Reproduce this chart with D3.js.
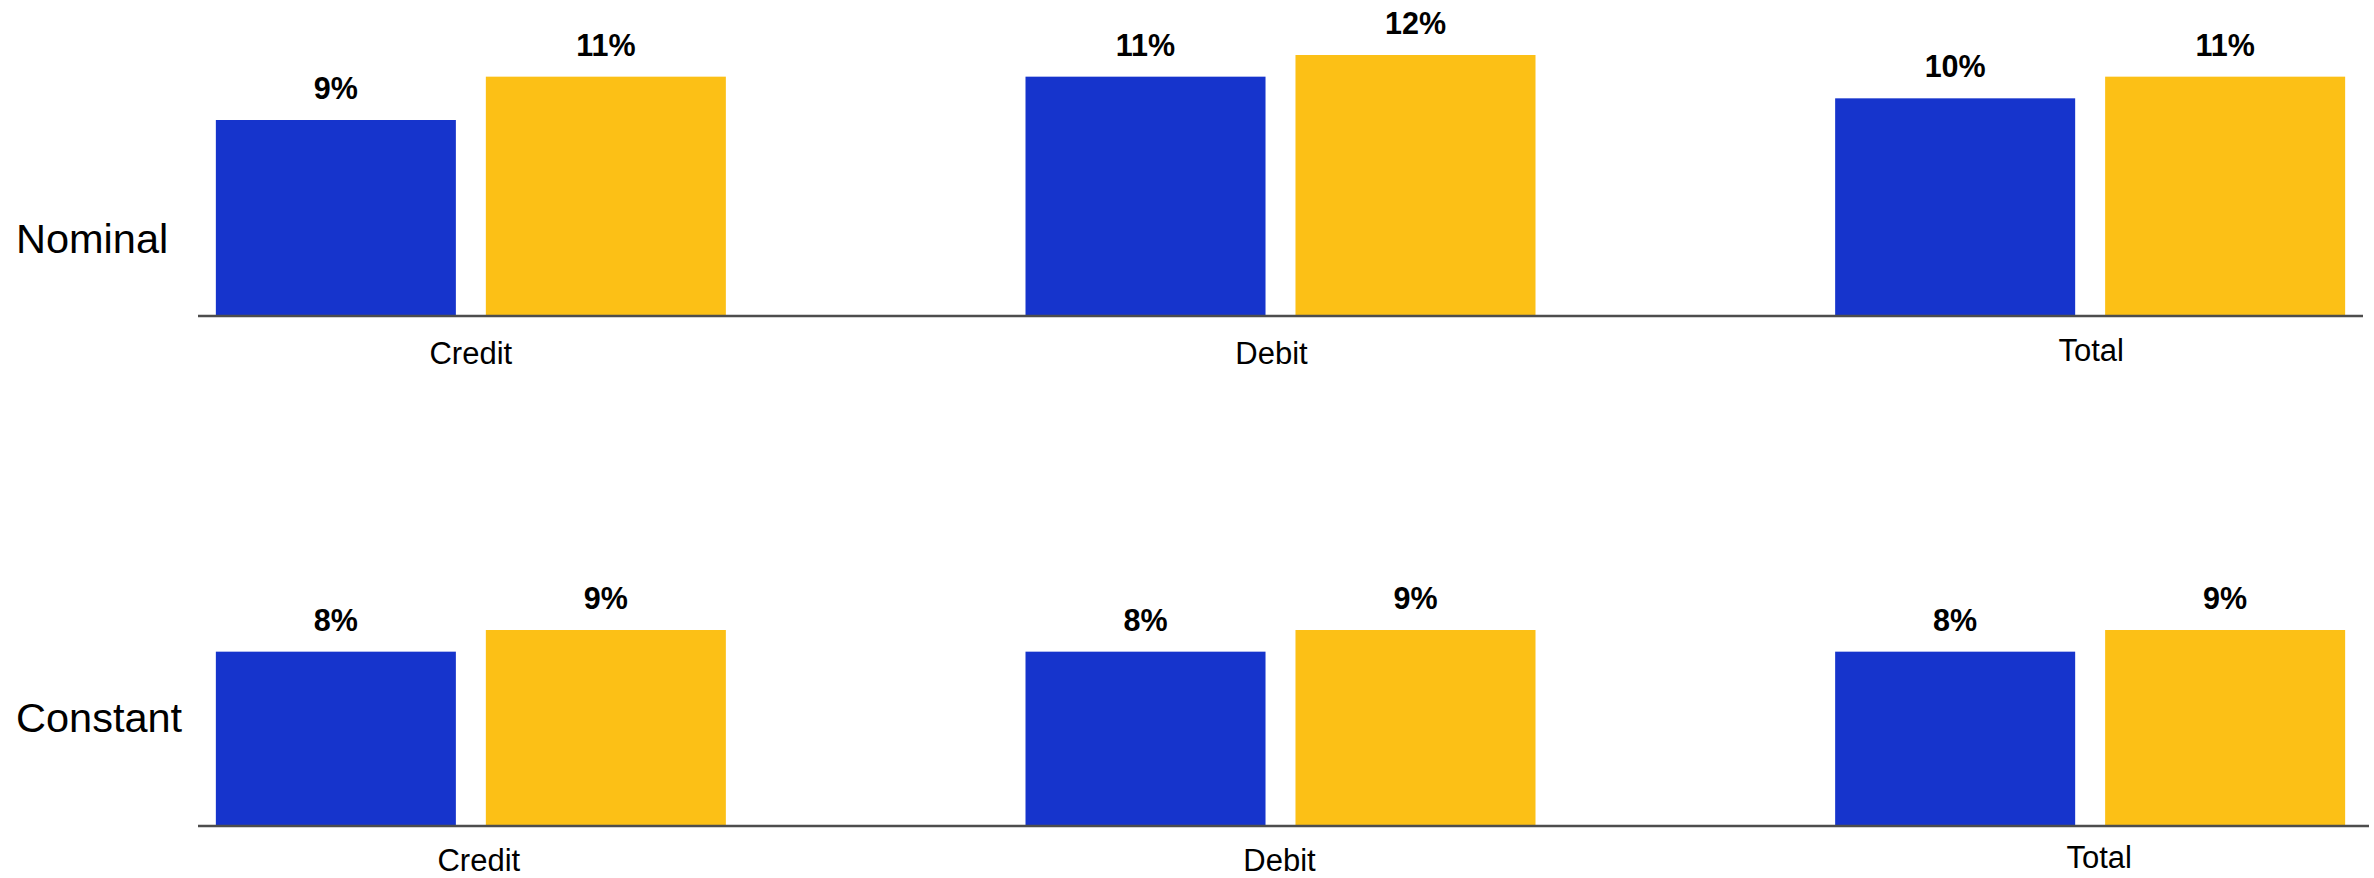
<!DOCTYPE html>
<html>
<head>
<meta charset="utf-8">
<script src="https://cdn.jsdelivr.net/npm/d3@7/dist/d3.min.js"></script>
<style>
  html, body { margin: 0; padding: 0; background: #fff; }
  svg { display: block; font-family: "Liberation Sans", Arial, Helvetica, sans-serif; }
</style>
</head>
<body>
<svg id="chart" width="2374" height="878"></svg>
<script>
// ---- data ----
const categories = ["Credit", "Debit", "Total"];
const seriesKeys = ["blue", "yellow"];
const panelNames = ["Nominal", "Constant"];
const nominalBlue = [9, 11, 10];
const nominalYellow = [11, 12, 11];
const constantBlue = [8, 8, 8];
const constantYellow = [9, 9, 9];

// ---- styling / layout ----
const colors = { blue: "#1634cc", yellow: "#fcc016" };
const panels = [
  { name: panelNames[0], values: { blue: nominalBlue, yellow: nominalYellow },
    baseline: 315, axisEnd: 2363, titleBaseline: 253, labelDx: 0, labelGap: 49 },
  { name: panelNames[1], values: { blue: constantBlue, yellow: constantYellow },
    baseline: 825, axisEnd: 2369, titleBaseline: 732, labelDx: 8, labelGap: 46 }
];
const labelNudge = { Credit: [0, 0], Debit: [-9, 0], Total: [1, -3] };

const svg = d3.select("#chart");

const x = d3.scalePoint().domain(categories).range([198, 2363]).padding(0.337);
const xInner = d3.scaleBand().domain(seriesKeys).range([-255, 255]).paddingInner(0.111).paddingOuter(0);
const h = d3.scaleLinear().domain([0, 12]).range([0, 260]);

panels.forEach(p => {
  const g = svg.append("g");
  const y = d3.scaleLinear().domain([0, 12]).range([p.baseline, p.baseline - h(12)]);

  // panel title
  g.append("text")
    .attr("x", 16).attr("y", p.titleBaseline)
    .attr("font-size", 41.5).attr("fill", "#000")
    .text(p.name);

  const rows = [];
  categories.forEach((c, i) => {
    seriesKeys.forEach(k => rows.push({ cat: c, key: k, v: p.values[k][i] }));
  });

  // bars
  g.selectAll("rect.bar").data(rows).join("rect")
    .attr("class", "bar")
    .attr("x", d => x(d.cat) + xInner(d.key))
    .attr("width", xInner.bandwidth())
    .attr("y", d => y(d.v))
    .attr("height", d => y(0) - y(d.v))
    .attr("fill", d => colors[d.key]);

  // value labels
  g.selectAll("text.val").data(rows).join("text")
    .attr("class", "val")
    .attr("x", d => x(d.cat) + xInner(d.key) + xInner.bandwidth() / 2)
    .attr("y", d => y(d.v) - 21)
    .attr("text-anchor", "middle")
    .attr("font-size", 30.5).attr("font-weight", "bold").attr("fill", "#000")
    .text(d => d.v + "%");

  // axis line
  g.append("line")
    .attr("x1", x.range()[0]).attr("x2", p.axisEnd)
    .attr("y1", p.baseline + 1).attr("y2", p.baseline + 1)
    .attr("stroke", "#4d4d4d").attr("stroke-width", 2.5);

  // category labels
  g.selectAll("text.cat").data(categories).join("text")
    .attr("class", "cat")
    .attr("x", c => x(c) + p.labelDx + labelNudge[c][0])
    .attr("y", c => p.baseline + p.labelGap + labelNudge[c][1])
    .attr("text-anchor", "middle")
    .attr("font-size", 31).attr("fill", "#000")
    .text(c => c);
});
</script>
</body>
</html>
